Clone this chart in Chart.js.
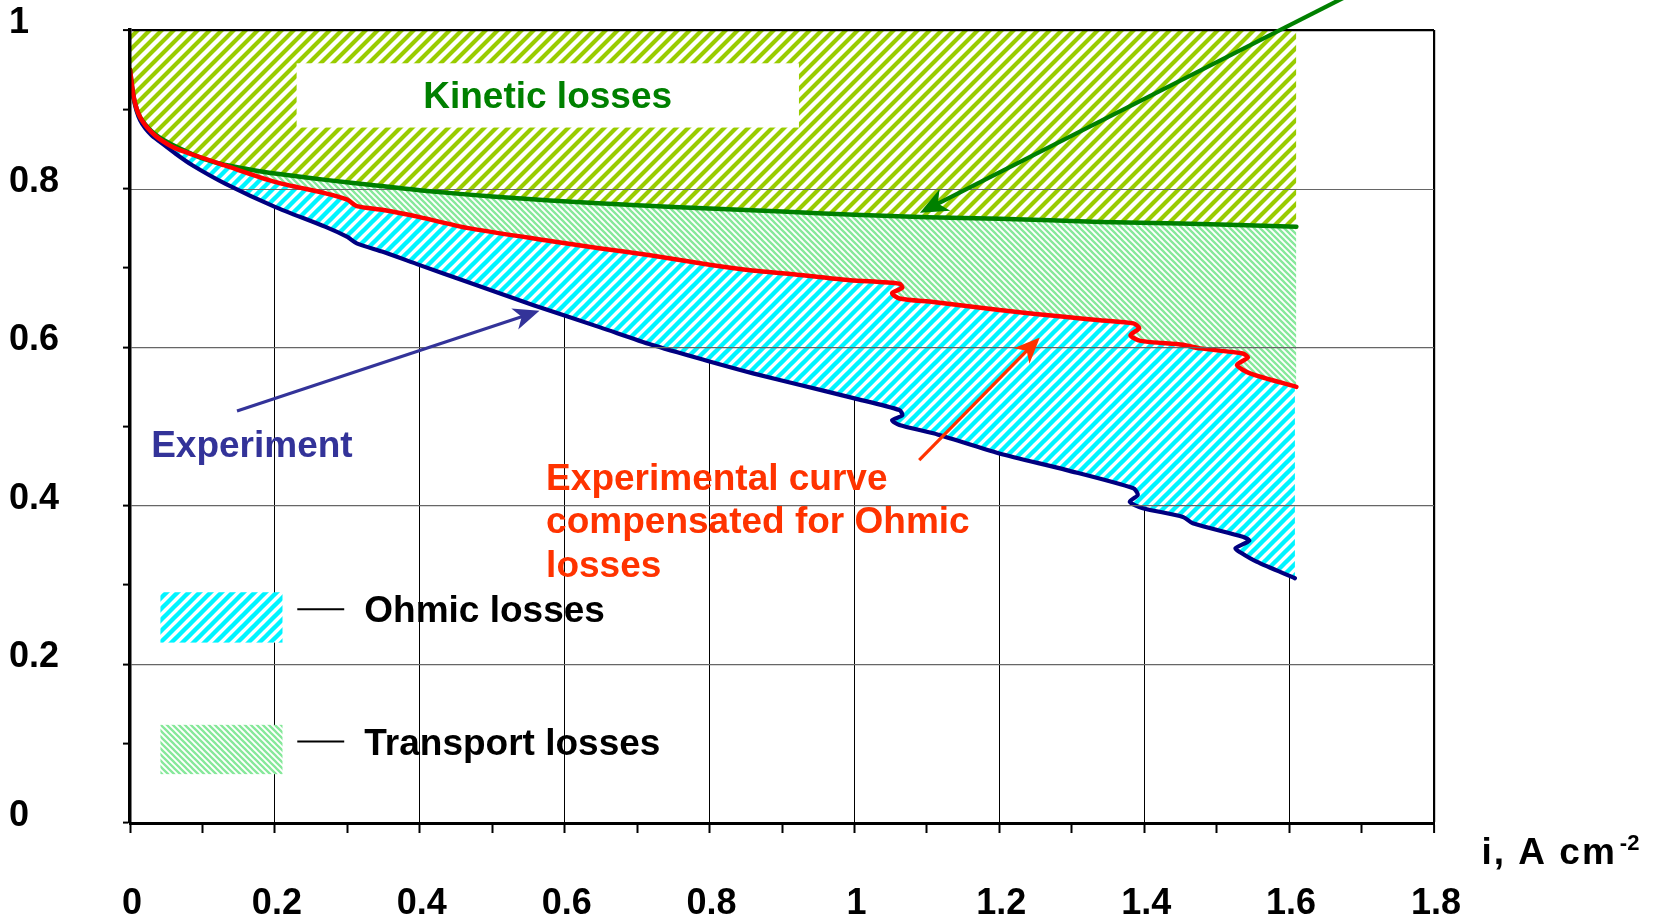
<!DOCTYPE html>
<html>
<head>
<meta charset="utf-8">
<script src="https://cdn.jsdelivr.net/npm/chart.js@4.4.1/dist/chart.umd.min.js"></script>
<style>
html,body{margin:0;padding:0;background:#fff;}
#wrap{width:1666px;height:919px;position:relative;}
canvas{display:block;}
</style>
</head>
<body>
<div id="wrap"><canvas id="c" width="1666" height="919"></canvas></div>
<script>
// ---- tick labels ----
const xTickLabels = ['0','0.2','0.4','0.6','0.8','1','1.2','1.4','1.6','1.8'];
const yTickLabels = ['0','0.2','0.4','0.6','0.8','1'];

// ---- kinetic (Tafel) curve, green ----
const kineticX = [0, 0.002, 0.005, 0.009, 0.014, 0.021, 0.03, 0.04, 0.055, 0.075, 0.1, 0.13, 0.16, 0.2, 0.27, 0.34, 0.41, 0.5, 0.58, 0.7, 0.8, 0.9, 1.0, 1.1, 1.2, 1.34, 1.45, 1.61];
const kineticY = [0.95, 0.935, 0.916, 0.901, 0.89, 0.881, 0.872, 0.865, 0.857, 0.848, 0.838, 0.83, 0.825, 0.819, 0.811, 0.804, 0.797, 0.79, 0.785, 0.779, 0.775, 0.771, 0.767, 0.764, 0.762, 0.758, 0.756, 0.752];

// ---- experimental curve compensated for Ohmic losses, red ----
const compX = [0, 0.002, 0.005, 0.009, 0.014, 0.021, 0.03, 0.04, 0.06, 0.086, 0.13, 0.2, 0.27, 0.3, 0.313, 0.35, 0.4, 0.465, 0.58, 0.65, 0.718, 0.8, 0.856, 0.925, 0.994, 1.062, 1.066, 1.052, 1.062, 1.109, 1.2, 1.293, 1.339, 1.385, 1.393, 1.381, 1.395, 1.4535, 1.477, 1.536, 1.543, 1.528, 1.546, 1.61];
const compY = [0.95, 0.935, 0.916, 0.901, 0.89, 0.88, 0.871, 0.863, 0.852, 0.843, 0.8295, 0.8085, 0.794, 0.786, 0.778, 0.773, 0.764, 0.7505, 0.734, 0.7245, 0.716, 0.704, 0.697, 0.691, 0.6845, 0.68, 0.675, 0.668, 0.6615, 0.657, 0.6468, 0.638, 0.634, 0.63, 0.624, 0.615, 0.608, 0.603, 0.5985, 0.592, 0.587, 0.5775, 0.567, 0.55];

// ---- experiment, dark blue ----
const expX = [0, 0.002, 0.005, 0.009, 0.014, 0.021, 0.03, 0.04, 0.063, 0.086, 0.132, 0.2, 0.27, 0.3, 0.313, 0.35, 0.4, 0.465, 0.557, 0.649, 0.72, 0.8, 0.86, 0.925, 1.0, 1.062, 1.066, 1.052, 1.062, 1.109, 1.2, 1.293, 1.385, 1.391, 1.38, 1.398, 1.4535, 1.467, 1.536, 1.545, 1.526, 1.533, 1.555, 1.608];
const expY = [0.95, 0.933, 0.913, 0.898, 0.886, 0.876, 0.867, 0.86, 0.844, 0.8295, 0.806, 0.777, 0.7517, 0.739, 0.731, 0.72, 0.7035, 0.6825, 0.653, 0.625, 0.603, 0.582, 0.567, 0.5523, 0.5355, 0.5207, 0.514, 0.508, 0.502, 0.4914, 0.466, 0.445, 0.422, 0.4136, 0.405, 0.397, 0.386, 0.378, 0.361, 0.356, 0.3464, 0.341, 0.3295, 0.3086];

// ---- texts ----
const kineticLabel = 'Kinetic losses';
const experimentLabel = 'Experiment';
const compensatedLabel = ['Experimental curve', 'compensated for Ohmic', 'losses'];
const legendLabels = ['Ohmic losses', 'Transport losses'];
const axisTitle = 'i, A cm';
const axisTitleSup = '-2';

const FONT = '"Liberation Sans", Arial, Helvetica, sans-serif';
Chart.defaults.font.family = FONT;

function stripePattern(size, color, width, dir) {
  const c = document.createElement('canvas');
  c.width = size; c.height = size;
  const g = c.getContext('2d');
  g.fillStyle = '#ffffff';
  g.fillRect(0, 0, size, size);
  g.strokeStyle = color;
  g.lineWidth = width;
  g.beginPath();
  for (let k = -1; k <= 1; k++) {
    if (dir === '/') {
      g.moveTo(k * size - 2, size + 2);
      g.lineTo(k * size + size + 2, -2);
    } else {
      g.moveTo(k * size - 2, -2);
      g.lineTo(k * size + size + 2, size + 2);
    }
  }
  g.stroke();
  return g.createPattern(c, 'repeat');
}

const kineticPattern = stripePattern(12, '#99cc00', 4.2, '/');
const ohmicPattern = stripePattern(11, '#00f4ff', 4.4, '/');
const transportPattern = stripePattern(6, '#86e89a', 2.3, '\\');

const pts = (xs, ys) => xs.map((x, i) => ({x: x, y: ys[i]}));

function arrow(ctx, x1, y1, x2, y2, color, w, headLen, headHalf) {
  const dx = x2 - x1, dy = y2 - y1, L = Math.hypot(dx, dy);
  const ux = dx / L, uy = dy / L, nx = -uy, ny = ux;
  ctx.strokeStyle = color; ctx.lineWidth = w; ctx.lineCap = 'butt';
  ctx.beginPath();
  ctx.moveTo(x1, y1);
  ctx.lineTo(x2 - ux * headLen * 0.6, y2 - uy * headLen * 0.6);
  ctx.stroke();
  ctx.fillStyle = color;
  ctx.beginPath();
  ctx.moveTo(x2, y2);
  ctx.lineTo(x2 - ux * headLen + nx * headHalf, y2 - uy * headLen + ny * headHalf);
  ctx.lineTo(x2 - ux * headLen * 0.72, y2 - uy * headLen * 0.72);
  ctx.lineTo(x2 - ux * headLen - nx * headHalf, y2 - uy * headLen - ny * headHalf);
  ctx.closePath();
  ctx.fill();
}

// 0.8 gridline is drawn under the fills (it is hidden by the kinetic hatch in the original)
const underGrid = {
  id: 'underGrid',
  beforeDatasetsDraw(chart) {
    const ctx = chart.ctx, a = chart.chartArea;
    const y = Math.round(chart.scales.y.getPixelForValue(0.8)) + 0.5;
    ctx.save();
    ctx.strokeStyle = '#666666';
    ctx.lineWidth = 1.2;
    ctx.beginPath();
    ctx.moveTo(a.left, y); ctx.lineTo(a.right, y);
    ctx.stroke();
    ctx.restore();
  }
};

const overlay = {
  id: 'overlay',
  afterDraw(chart) {
    const ctx = chart.ctx;
    const X = v => chart.scales.x.getPixelForValue(v);
    const Y = v => chart.scales.y.getPixelForValue(v);
    ctx.save();
    // Kinetic losses box
    ctx.fillStyle = '#ffffff';
    ctx.fillRect(X(0.230), Y(0.958), X(0.9234) - X(0.230), Y(0.877) - Y(0.958));
    ctx.font = 'bold 37px ' + FONT;
    ctx.fillStyle = '#008000';
    ctx.textAlign = 'center';
    ctx.textBaseline = 'middle';
    ctx.fillText(kineticLabel, X(0.5765), Y(0.914));

    // arrows
    arrow(ctx, X(0.1477), Y(0.5195), X(0.5652), Y(0.6459), '#333399', 3.2, 26, 11);
    arrow(ctx, X(1.0894), Y(0.4577), X(1.2559), Y(0.6122), '#ff3300', 3.2, 26, 11);
    arrow(ctx, X(1.6765), Y(1.0412), X(1.0904), Y(0.7696), '#008000', 4.2, 28, 12);

    // texts
    ctx.textAlign = 'left';
    ctx.textBaseline = 'alphabetic';
    ctx.fillStyle = '#333399';
    ctx.fillText(experimentLabel, X(0.0292), Y(0.4615));
    ctx.fillStyle = '#ff3300';
    const base = [0.4199, 0.3653, 0.3102];
    compensatedLabel.forEach((t, i) => ctx.fillText(t, X(0.5744), Y(base[i])));

    // legend
    const sw = [
      {pat: ohmicPattern, y0: 0.291, y1: 0.2275, dy: 0.2696, ty: 0.254},
      {pat: transportPattern, y0: 0.1238, y1: 0.0616, dy: 0.1027, ty: 0.086}
    ];
    sw.forEach((s, i) => {
      ctx.fillStyle = s.pat;
      ctx.fillRect(X(0.042), Y(s.y0), X(0.2105) - X(0.042), Y(s.y1) - Y(s.y0));
      ctx.strokeStyle = '#000'; ctx.lineWidth = 2;
      ctx.beginPath();
      ctx.moveTo(X(0.2309), Y(s.dy)); ctx.lineTo(X(0.2957), Y(s.dy));
      ctx.stroke();
      ctx.fillStyle = '#000';
      ctx.fillText(legendLabels[i], X(0.3234), Y(s.ty));
    });

    // axis title with superscript
    ctx.fillStyle = '#000';
    ctx.font = 'bold 37px ' + FONT;
    const tx = X(1.8656), ty = Y(-0.0514);
    if ('letterSpacing' in ctx) ctx.letterSpacing = '2px';
    ctx.fillText(axisTitle, tx, ty);
    const w = ctx.measureText(axisTitle).width;
    if ('letterSpacing' in ctx) ctx.letterSpacing = '0px';
    ctx.font = 'bold 22px ' + FONT;
    ctx.fillText(axisTitleSup, tx + w + 3, ty - 14);
    ctx.restore();
  }
};

const tickFont = {family: FONT, size: 36, weight: 'bold'};

new Chart(document.getElementById('c'), {
  type: 'line',
  data: {
    datasets: [
      {
        label: 'Kinetic curve',
        data: pts(kineticX, kineticY),
        borderColor: '#008000',
        borderWidth: 4.5,
        backgroundColor: kineticPattern,
        fill: 'end',
        order: 1
      },
      {
        label: 'Experimental curve compensated for Ohmic losses',
        data: pts(compX, compY),
        borderColor: '#ff0000',
        borderWidth: 4.5,
        backgroundColor: transportPattern,
        fill: 0,
        order: 0
      },
      {
        label: 'Experiment',
        data: pts(expX, expY),
        borderColor: '#000080',
        borderWidth: 4.2,
        backgroundColor: ohmicPattern,
        fill: 1,
        order: 2
      }
    ]
  },
  options: {
    responsive: false,
    animation: false,
    devicePixelRatio: 1,
    layout: {padding: {left: 9, top: 30, right: 232, bottom: 0}},
    elements: {
      point: {radius: 0, hoverRadius: 0},
      line: {tension: 0.25, borderCapStyle: 'round', borderJoinStyle: 'round'}
    },
    plugins: {
      legend: {display: false},
      tooltip: {enabled: false},
      filler: {drawTime: 'beforeDatasetsDraw', propagate: false}
    },
    scales: {
      x: {
        type: 'linear',
        min: 0, max: 1.8,
        afterFit: s => { s.height = 96; },
        ticks: {
          stepSize: 0.1, autoSkip: false, maxRotation: 0, minRotation: 0,
          padding: 49, labelOffset: 2, color: '#000', font: tickFont,
          callback: (v, i) => (i % 2 === 0 ? xTickLabels[i / 2] : '')
        },
        grid: {
          color: c => (c.index % 2 === 0 && c.index > 0) ? '#000000' : 'rgba(0,0,0,0)',
          lineWidth: c => (c.index === 18 ? 2.2 : 1),
          tickColor: '#000', tickLength: 10, tickWidth: 2
        },
        border: {display: true, color: '#000', width: 3, z: 2}
      },
      y: {
        type: 'linear',
        position: 'left',
        min: 0, max: 1,
        afterFit: s => { s.width = 121; },
        ticks: {
          stepSize: 0.1, autoSkip: false, crossAlign: 'far',
          labelOffset: -7, color: '#000', font: tickFont,
          callback: (v, i) => (i % 2 === 0 ? yTickLabels[i / 2] : '')
        },
        grid: {
          z: 1,
          color: c => {
            const i = c.index;
            if (i === 10) return '#000000';
            if (i === 2 || i === 4 || i === 6) return '#666666';
            return 'rgba(0,0,0,0)';
          },
          lineWidth: c => (c.index === 10 ? 2.2 : 1.2),
          tickColor: '#000', tickLength: 7, tickWidth: 2
        },
        border: {display: true, color: '#000', width: 3.5, z: 2}
      }
    }
  },
  plugins: [underGrid, overlay]
});
</script>
</body>
</html>
